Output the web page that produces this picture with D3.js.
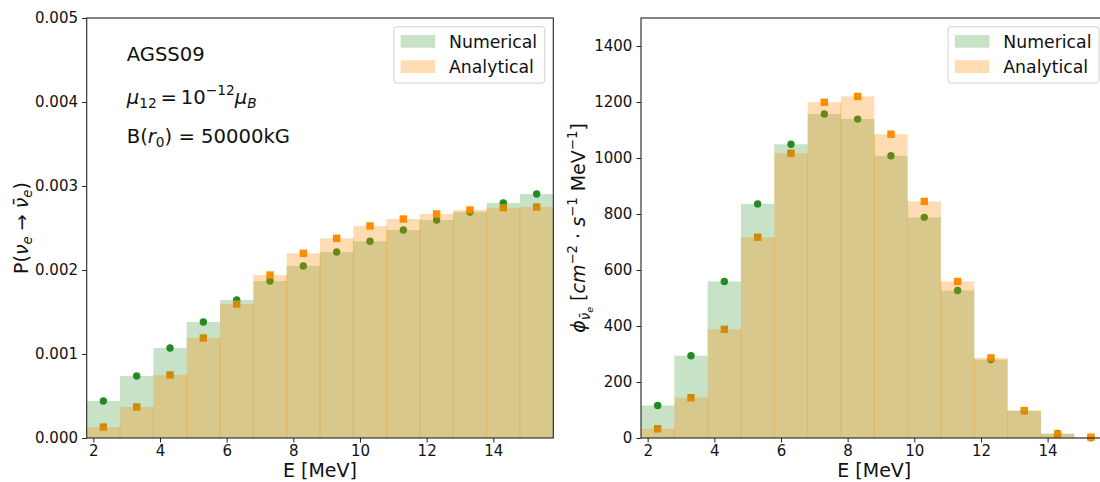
<!DOCTYPE html>
<html><head><meta charset="utf-8">
<script src="https://cdn.jsdelivr.net/npm/d3@7/dist/d3.min.js"></script>
<style>
body{margin:0;background:#fff}
svg{display:block;font-family:"DejaVu Sans",sans-serif}
</style></head><body>
<svg id="chart" width="1100" height="482"></svg>
<script>
// ---------- data ----------
const energies = [2.3, 3.3, 4.3, 5.3, 6.3, 7.3, 8.3, 9.3, 10.3, 11.3, 12.3, 13.3, 14.3, 15.3];
const binWidth = 1.0;
const probNumerical  = [0.00044, 0.000738, 0.001071, 0.001381, 0.001643, 0.001869, 0.002048, 0.002214, 0.002342, 0.002476, 0.002595, 0.00269, 0.002798, 0.002905];
const probAnalytical = [0.00013, 0.000369, 0.00075, 0.00119, 0.001595, 0.00194, 0.002199, 0.002377, 0.002524, 0.002607, 0.002667, 0.002714, 0.002742, 0.00275];
const fluxNumerical  = [116, 294, 559, 836, 1049, 1157, 1139, 1008, 788, 527, 280, 97, 16, 1];
const fluxAnalytical = [33, 144, 388, 717, 1017, 1199, 1220, 1085, 845, 559, 286, 98, 14, 3];
const xTicks = [2, 4, 6, 8, 10, 12, 14];
const probTicks = [0, 0.001, 0.002, 0.003, 0.004, 0.005];
const fluxTicks = [0, 200, 400, 600, 800, 1000, 1200, 1400];
const legendLabels = ["Numerical", "Analytical"];
const xDomain = [1.8, 15.8];
const probDomain = [0, 0.005];
const fluxDomain = [0, 1500];

// ---------- style ----------
const GREEN = "forestgreen", ORANGE = "darkorange";
const TOP = 18, BOTTOM = 438;
const svg = d3.select("#chart");

function mathText(sel, parts, fs) {
  let cur = 0;
  parts.forEach(p => {
    const off = p.o || 0;
    sel.append("tspan").text(p.t)
      .attr("dy", ((off - cur) * fs).toFixed(2))
      .style("font-size", ((p.s || 1) * fs) + "px")
      .style("font-style", p.i ? "italic" : "normal");
    cur = off;
  });
}

function panel(x0, x1, yDomain, yTicks, yFmt, num, ana) {
  const g = svg.append("g");
  const x = d3.scaleLinear().domain(xDomain).range([x0, x1]);
  const y = d3.scaleLinear().domain(yDomain).range([BOTTOM, TOP]);

  // points (drawn under the translucent bars)
  g.selectAll("circle.num").data(energies).join("circle")
    .attr("cx", d => x(d)).attr("cy", (d, i) => y(num[i])).attr("r", 3.7)
    .attr("fill", GREEN);
  g.selectAll("rect.anaPt").data(energies).join("rect")
    .attr("x", d => x(d) - 3.7).attr("y", (d, i) => y(ana[i]) - 3.7)
    .attr("width", 7.4).attr("height", 7.4).attr("fill", ORANGE);

  // bars
  g.append("g").selectAll("rect").data(energies).join("rect")
    .attr("x", d => x(d - binWidth / 2))
    .attr("width", d => x(d + binWidth / 2) - x(d - binWidth / 2))
    .attr("y", (d, i) => y(num[i]))
    .attr("height", (d, i) => y(0) - y(num[i]))
    .attr("fill", GREEN).attr("fill-opacity", 0.25);
  g.append("g").selectAll("rect").data(energies).join("rect")
    .attr("x", d => x(d - binWidth / 2))
    .attr("width", d => x(d + binWidth / 2) - x(d - binWidth / 2))
    .attr("y", (d, i) => y(ana[i]))
    .attr("height", (d, i) => y(0) - y(ana[i]))
    .attr("fill", ORANGE).attr("fill-opacity", 0.3);
  // faint seams where neighbouring translucent bars overlap
  g.append("g").selectAll("line").data(energies.slice(0, -1)).join("line")
    .attr("x1", d => x(d + binWidth / 2)).attr("x2", d => x(d + binWidth / 2))
    .attr("y1", y(0)).attr("y2", (d, i) => y(Math.min(ana[i], ana[i + 1])))
    .attr("stroke", ORANGE).attr("stroke-opacity", 0.35).attr("stroke-width", 1);

  // axes
  const xa = g.append("g").attr("transform", `translate(0,${BOTTOM})`)
    .call(d3.axisBottom(x).tickValues(xTicks).tickSize(4.5).tickPadding(2.9).tickFormat(d3.format("d")));
  const ya = g.append("g").attr("transform", `translate(${x0},0)`)
    .call(d3.axisLeft(y).tickValues(yTicks).tickSize(4.5).tickPadding(4.2).tickFormat(yFmt));
  [xa, ya].forEach(a => {
    a.select(".domain").remove();
    a.selectAll("line").attr("stroke", "#222").attr("stroke-width", 1);
    a.selectAll("text").attr("fill", "#111").style("font-size", "15px")
      .style("font-family", '"DejaVu Sans", sans-serif');
  });
  // frame
  g.append("rect").attr("x", x0).attr("y", TOP).attr("width", x1 - x0).attr("height", BOTTOM - TOP)
    .attr("fill", "none").attr("stroke", "#222").attr("stroke-width", 1.1);

  // x label
  g.append("text").attr("x", (x0 + x1) / 2).attr("y", 477).attr("text-anchor", "middle")
    .style("font-size", "19px").attr("fill", "#111").text("E [MeV]");

  // legend
  const fs = 17.3;
  const lw = 151, lx = x1 - 8.5 - lw, ly = 26.7;
  const lg = g.append("g");
  lg.append("rect").attr("x", lx).attr("y", ly).attr("width", lw).attr("height", 56.3)
    .attr("rx", 3).attr("fill", "#fff").attr("fill-opacity", 0.8)
    .attr("stroke", "#d0d0d0").attr("stroke-width", 1);
  legendLabels.forEach((lab, i) => {
    const cy = 35 + i * 25.3;
    lg.append("rect").attr("x", lx + 6.8).attr("y", cy).attr("width", 34.6).attr("height", 12.7)
      .attr("fill", i === 0 ? GREEN : ORANGE).attr("fill-opacity", i === 0 ? 0.25 : 0.3);
    lg.append("text").attr("x", lx + 6.8 + 34.6 + 13.8).attr("y", cy + 12.7)
      .style("font-size", fs + "px").attr("fill", "#111").text(lab);
  });
  return g;
}

panel(86.7, 553.3, probDomain, probTicks, d3.format(".3f"), probNumerical, probAnalytical);
panel(641, 1107.6, fluxDomain, fluxTicks, d3.format("d"), fluxNumerical, fluxAnalytical);

// y labels
const yl1 = svg.append("text").attr("transform", "translate(28,228) rotate(-90)")
  .attr("text-anchor", "middle").attr("fill", "#111").style("font-size", "19px");
mathText(yl1, [
  {t: "P("}, {t: "ν", i: 1}, {t: "e", i: 1, s: 0.7, o: 0.22},
  {t: " → "}, {t: "ν\u0304", i: 1}, {t: "e", i: 1, s: 0.7, o: 0.22}, {t: ")"}
], 19);

const yl2 = svg.append("text").attr("transform", "translate(585,228) rotate(-90)")
  .attr("text-anchor", "middle").attr("fill", "#111").style("font-size", "19px");
mathText(yl2, [
  {t: "ϕ", i: 1}, {t: "ν\u0304", i: 1, s: 0.7, o: 0.25}, {t: "e", i: 1, s: 0.5, o: 0.4},
  {t: " ["}, {t: "cm", i: 1}, {t: "−2", s: 0.7, o: -0.42}, {t: " · "},
  {t: "s", i: 1}, {t: "−1", s: 0.7, o: -0.42}, {t: " MeV"}, {t: "−1", s: 0.7, o: -0.42}, {t: "]"}
], 19);

// annotations
const ann = [
  [{t: "AGSS09"}],
  [{t: "μ", i: 1}, {t: "12", s: 0.7, o: 0.22}, {t: "\u2009=\u200910"}, {t: "−12", s: 0.7, o: -0.42},
   {t: "μ", i: 1}, {t: "B", i: 1, s: 0.7, o: 0.22}],
  [{t: "B("}, {t: "r", i: 1}, {t: "0", s: 0.7, o: 0.22}, {t: ") = 50000kG"}]
];
const annY = [60.5, 103.5, 142.5];
ann.forEach((parts, i) => {
  const t = svg.append("text").attr("x", 126.7).attr("y", annY[i]).attr("fill", "#111")
    .style("font-size", "19.6px");
  mathText(t, parts, 19.6);
});
</script>
</body></html>
